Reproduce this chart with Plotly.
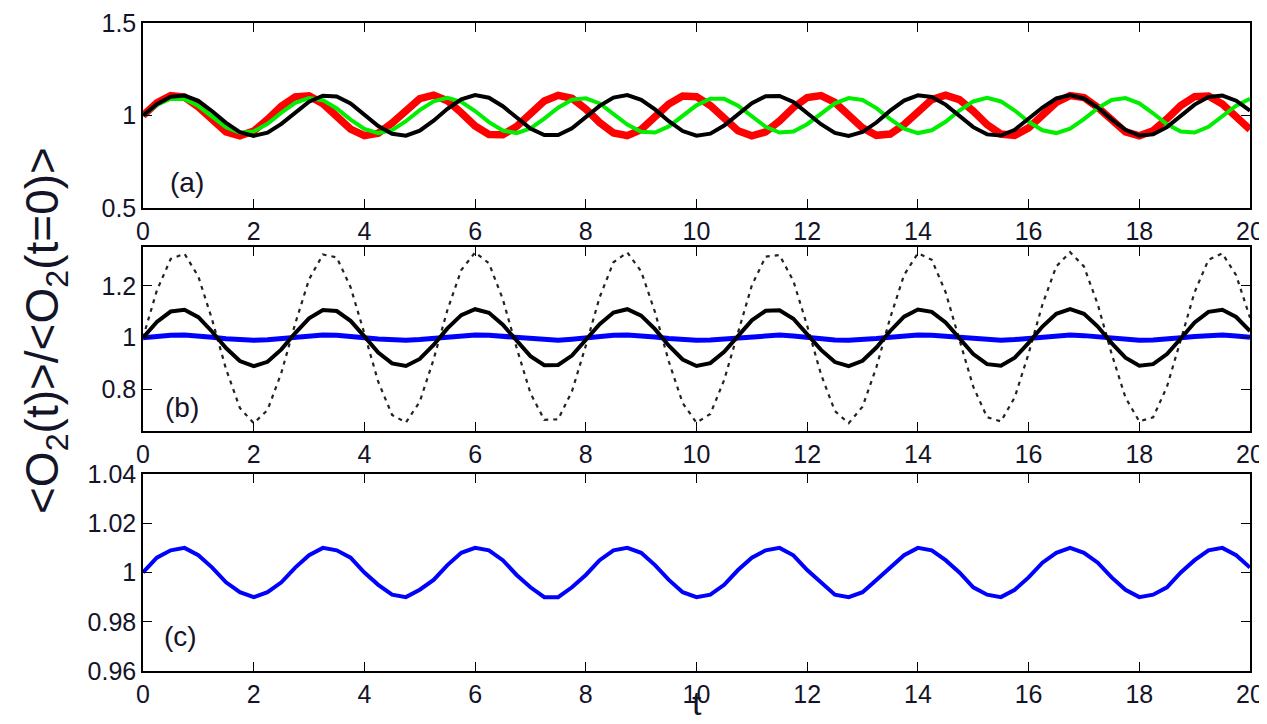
import plotly.graph_objects as go

# time axis
t = [i * 0.25 for i in range(81)]

# panel (a)
red = [1.000,1.069,1.107,1.099,1.046,0.973,0.912,0.890,0.916,0.979,1.051,1.101,1.106,1.064,0.994,0.927,0.891,0.904,0.959,1.032,
       1.091,1.110,1.080,1.015,0.943,0.897,0.896,0.941,1.012,1.078,1.109,1.093,1.035,0.962,0.906,0.891,0.924,0.991,1.062,1.105,
       1.102,1.054,0.982,0.918,0.890,0.911,0.971,1.043,1.097,1.108,1.071,1.003,0.933,0.893,0.900,0.951,1.024,1.086,1.110,1.086,
       1.024,0.951,0.900,0.893,0.933,1.003,1.071,1.108,1.097,1.043,0.971,0.911,0.890,0.918,0.982,1.054,1.102,1.105,1.062,0.991,0.924]
green = [1.000,1.057,1.091,1.089,1.051,0.993,0.937,0.907,0.914,0.955,1.015,1.068,1.094,1.083,1.038,0.978,0.927,0.905,0.921,0.969,
         1.029,1.077,1.095,1.074,1.024,0.964,0.919,0.905,0.930,0.983,1.042,1.085,1.093,1.065,1.010,0.951,0.912,0.908,0.941,0.998,
         1.055,1.091,1.090,1.053,0.995,0.939,0.908,0.913,0.953,1.012,1.066,1.094,1.084,1.040,0.981,0.929,0.905,0.920,0.966,1.027,
         1.076,1.095,1.076,1.027,0.966,0.920,0.905,0.929,0.981,1.040,1.084,1.094,1.066,1.012,0.953,0.913,0.908,0.939,0.995,1.053,1.090]
black = [1.000,1.061,1.101,1.108,1.079,1.023,0.960,0.910,0.890,0.907,0.955,1.018,1.075,1.107,1.103,1.065,1.005,0.943,0.901,0.891,
         0.918,0.972,1.036,1.087,1.110,1.096,1.050,0.987,0.929,0.894,0.895,0.931,0.990,1.052,1.097,1.110,1.085,1.033,0.969,0.916,
         0.891,0.902,0.946,1.008,1.067,1.104,1.106,1.073,1.015,0.953,0.906,0.890,0.911,0.962,1.026,1.081,1.109,1.100,1.059,0.997,
         0.937,0.898,0.892,0.923,0.980,1.043,1.092,1.110,1.092,1.043,0.979,0.923,0.892,0.898,0.937,0.997,1.059,1.100,1.108,1.080,1.026]
# panel (b)
dotted = [1.000,1.182,1.304,1.324,1.236,1.069,0.879,0.729,0.670,0.721,0.865,1.054,1.225,1.321,1.310,1.195,1.016,0.830,0.702,0.673,
          0.753,0.916,1.107,1.261,1.329,1.287,1.149,0.961,0.786,0.683,0.685,0.793,0.969,1.156,1.291,1.329,1.256,1.099,0.908,0.748,
          0.672,0.706,0.837,1.023,1.202,1.313,1.319,1.219,1.046,0.858,0.717,0.670,0.734,0.886,1.077,1.242,1.326,1.301,1.176,0.992,
          0.811,0.693,0.677,0.770,0.939,1.128,1.275,1.330,1.275,1.128,0.938,0.769,0.677,0.693,0.811,0.992,1.176,1.301,1.325,1.241,1.077]
blue = [1.000,1.006,1.009,1.010,1.007,1.002,0.996,0.992,0.990,0.992,0.996,1.002,1.007,1.010,1.009,1.006,1.000,0.995,0.991,0.990,
        0.993,0.997,1.003,1.008,1.010,1.009,1.005,0.999,0.994,0.990,0.990,0.994,0.999,1.005,1.009,1.010,1.008,1.003,0.997,0.992,
        0.990,0.991,0.995,1.001,1.006,1.009,1.010,1.007,1.001,0.996,0.991,0.990,0.992,0.997,1.002,1.007,1.010,1.009,1.005,1.000,
        0.994,0.991,0.990,0.993,0.998,1.004,1.008,1.010,1.008,1.004,0.998,0.993,0.990,0.991,0.994,1.000,1.005,1.009,1.010,1.007,1.002]

x_ticks = [0, 2, 4, 6, 8, 10, 12, 14, 16, 18, 20]
ya_ticks = [0.5, 1, 1.5]
ya_text = ["0.5", "1", "1.5"]
yb_ticks = [0.8, 1, 1.2]
yb_text = ["0.8", "1", "1.2"]
yc_ticks = [0.96, 0.98, 1.0, 1.02, 1.04]
yc_text = ["0.96", "0.98", "1", "1.02", "1.04"]

# page body has an 8px margin: the figure starts at (8, 8) on screen
OFF = 8
W, H = 1267 - OFF, 724 - OFF
FONT = "Arial, Liberation Sans, sans-serif"
TXT = "#141428"

def px(x):
    return (x - OFF) / W

def py(y):
    return 1 - (y - OFF) / H

fig = go.Figure()
fig.add_trace(go.Scatter(x=t, y=red, mode="lines", line=dict(color="#ff0000", width=7.5), xaxis="x", yaxis="y"))
fig.add_trace(go.Scatter(x=t, y=green, mode="lines", line=dict(color="#00ee00", width=4), xaxis="x", yaxis="y"))
fig.add_trace(go.Scatter(x=t, y=black, mode="lines", line=dict(color="black", width=4), xaxis="x", yaxis="y"))

fig.add_trace(go.Scatter(x=t, y=dotted, mode="lines", line=dict(color="#222222", width=2.2, dash="4px,5px"), xaxis="x2", yaxis="y2"))
fig.add_trace(go.Scatter(x=t, y=blue, mode="lines", line=dict(color="#0000ff", width=5), xaxis="x2", yaxis="y2"))
fig.add_trace(go.Scatter(x=t, y=black, mode="lines", line=dict(color="black", width=4), xaxis="x2", yaxis="y2"))

fig.add_trace(go.Scatter(x=t, y=blue, mode="lines", line=dict(color="#0000ff", width=4), xaxis="x3", yaxis="y3"))

xdom = [px(143), px(1250)]
def ydom(top, bot):
    return [py(bot), py(top)]

axis_common = dict(showline=True, linecolor="black", linewidth=1.5, mirror="ticks",
                   ticks="inside", ticklen=9, tickwidth=1.3, tickcolor="black",
                   showgrid=False, zeroline=False, automargin=False,
                   tickfont=dict(family=FONT, size=25, color=TXT))

xax = dict(axis_common, range=[0, 20], tickvals=x_ticks, domain=xdom)
fig.update_layout(
    xaxis=dict(xax, anchor="y"),
    xaxis2=dict(xax, anchor="y2"),
    xaxis3=dict(xax, anchor="y3"),
    yaxis=dict(axis_common, range=[0.5, 1.5], tickvals=ya_ticks, ticktext=ya_text, domain=ydom(23, 208), anchor="x"),
    yaxis2=dict(axis_common, range=[0.64, 1.35], tickvals=yb_ticks, ticktext=yb_text, domain=ydom(247, 431), anchor="x2"),
    yaxis3=dict(axis_common, range=[0.96, 1.04], tickvals=yc_ticks, ticktext=yc_text, domain=ydom(474, 671), anchor="x3"),
    width=W, height=H,
    margin=dict(l=0, r=0, t=0, b=0),
    paper_bgcolor="white", plot_bgcolor="white",
    showlegend=False,
    annotations=[
        dict(text="(a)", x=0.8, y=0.64, xref="x", yref="y", showarrow=False,
             xanchor="center", yanchor="middle",
             font=dict(family=FONT, size=28, color=TXT)),
        dict(text="(b)", x=0.7, y=0.73, xref="x2", yref="y2", showarrow=False,
             xanchor="center", yanchor="middle",
             font=dict(family=FONT, size=28, color=TXT)),
        dict(text="(c)", x=0.67, y=0.974, xref="x3", yref="y3", showarrow=False,
             xanchor="center", yanchor="middle",
             font=dict(family=FONT, size=28, color=TXT)),
        dict(text="<O<sub>2</sub>(t)>/<O<sub>2</sub>(t=0)>", x=px(45), y=py(331),
             xref="paper", yref="paper", textangle=-90, showarrow=False,
             xanchor="center", yanchor="middle",
             font=dict(family=FONT, size=46, color=TXT)),
        dict(text="t", x=px(697), y=0, xref="paper", yref="paper", showarrow=False,
             xanchor="center", yanchor="bottom",
             font=dict(family=FONT, size=34, color=TXT)),
    ],
)

fig.write_html("out.html")
